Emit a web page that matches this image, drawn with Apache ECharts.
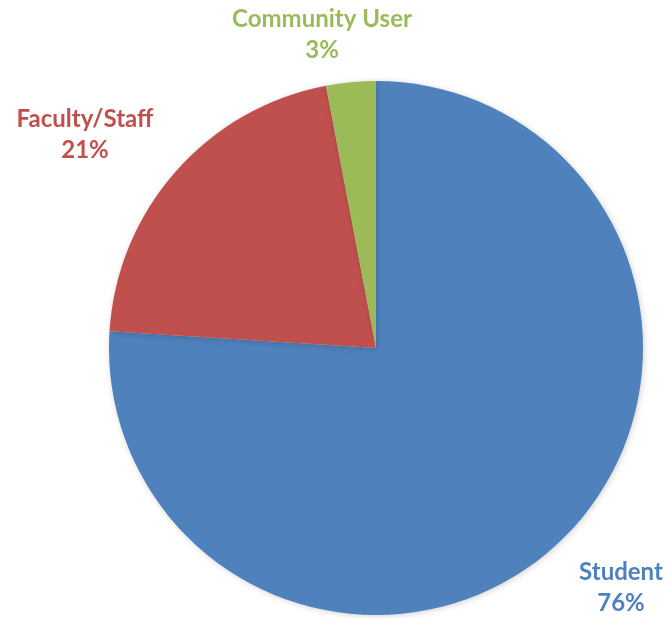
<!DOCTYPE html>
<html>
<head>
<meta charset="utf-8">
<script src="https://cdn.jsdelivr.net/npm/echarts@6/dist/echarts.min.js"></script>
<style>
  html, body { margin: 0; padding: 0; background: #fff; }
  #chart { width: 670px; height: 618px; }
</style>
</head>
<body>
<div id="chart"></div>
<script>
// User groups and their share of total users
const categories = ['Student', 'Faculty/Staff', 'Community User'];
const values = [76, 21, 3];
const colors = ['#4F81BD', '#C0504D', '#9BBB59'];

// Label anchor points (text centre) for each slice
const labelPos = [
  { x: 621, y: 588 },
  { x: 85, y: 135 },
  { x: 322, y: 35 }
];

const chart = echarts.init(document.getElementById('chart'), null, { renderer: 'canvas' });

chart.setOption({
  animation: false,
  backgroundColor: '#ffffff',
  series: [{
    type: 'pie',
    center: [376, 348],
    radius: [0, 267],
    startAngle: 90,
    clockwise: true,
    data: categories.map((name, i) => ({
      name: name,
      value: values[i],
      itemStyle: { color: colors[i] },
      label: { color: colors[i] }
    })),
    itemStyle: {
      borderWidth: 0,
      shadowBlur: 6,
      shadowColor: 'rgba(0,0,0,0.18)',
      shadowOffsetX: 1,
      shadowOffsetY: 1
    },
    label: {
      show: true,
      position: 'inside',
      formatter: '{b}\n{d}%',
      fontFamily: 'Lato',
      fontWeight: 'bold',
      fontSize: 24,
      lineHeight: 31,
      overflow: 'none',
      align: 'center',
      verticalAlign: 'middle'
    },
    labelLine: { show: false },
    labelLayout: function (params) {
      const p = labelPos[params.dataIndex];
      return { x: p.x, y: p.y, align: 'center', verticalAlign: 'middle', hideOverlap: false };
    },
    emphasis: { disabled: true }
  }]
});
</script>
</body>
</html>
